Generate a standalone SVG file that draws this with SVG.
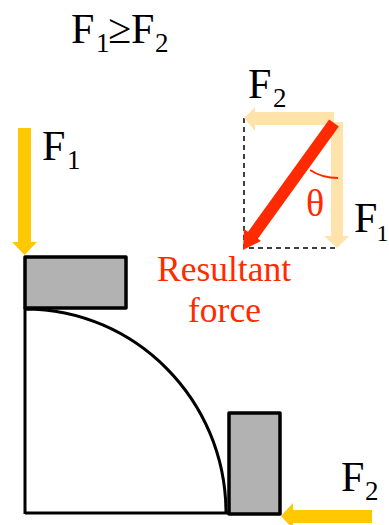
<svg xmlns="http://www.w3.org/2000/svg" width="389" height="525" viewBox="0 0 389 525">
<style>
text{font-family:"Liberation Serif","Times New Roman",serif;fill:#000;font-size:42px}
.s{font-size:27px}
.s2{font-size:24px}
.r{font-size:35.500px;fill:#ff2a00}
.block{fill:#b2b2b2;stroke:#000;stroke-width:3.500;stroke-linejoin:round}
.line{fill:none;stroke:#000;stroke-width:3}
.dash{fill:none;stroke:#000;stroke-width:1.500;stroke-dasharray:5 4}
.gold{fill:#ffc800}
.pale{fill:#ffe3ab}
</style>
<rect width="389" height="525" fill="#fff"/>
<g id="title"><text x="71" y="43">F<tspan class="s" x="96" y="52">1</tspan><tspan x="108" y="43">≥</tspan><tspan x="131" y="43">F</tspan><tspan class="s" x="155" y="52">2</tspan></text></g>
<g id="surface"><path class="line" d="M25 514V309C135 309 226 400 226 513"/><path class="line" d="M25 513H229"/></g>
<g id="block-top"><rect class="block" x="25" y="257" width="101" height="51"/></g>
<g id="block-right"><rect class="block" x="229" y="413" width="51" height="101"/></g>
<g id="connectors">
<polygon class="gold" points="18,128 31,128 31,242 37,242 24.500,255 12,242 18,242"/>
<polygon class="gold" points="372,510 372,523 293,523 293,529 281,516 293,503 293,510"/>
<path class="dash" d="M244 118V248H337"/>
<polygon class="pale" points="334,112 334,125 255,125 255,131 244,118 255,107 255,112"/>
<polygon class="pale" points="331,122 343,122 343,236 349,236 337,248 324,236 331,236"/>
<path d="M334 123L251 238" fill="none" stroke="#ff2a00" stroke-width="12"/>
<polygon points="243,250 244,229 261,241" fill="#ff2a00"/>
<path d="M310 170Q322 178 338 178" fill="none" stroke="#ff2a00" stroke-width="2"/>
</g>
<g id="labels">
<text x="42" y="160">F<tspan class="s" x="67" y="169">1</tspan></text>
<text x="248" y="98">F<tspan class="s" x="273" y="107">2</tspan></text>
<text x="354" y="232">F<tspan class="s2" x="376.500" y="241">1</tspan></text>
<text x="341" y="491">F<tspan class="s" x="365" y="500">2</tspan></text>
<text x="306" y="216" style="fill:#ff2a00;font-size:38px">θ</text>
<text class="r" x="157" y="281">Resultant</text>
<text class="r" x="188" y="322">force</text>
</g>
</svg>
